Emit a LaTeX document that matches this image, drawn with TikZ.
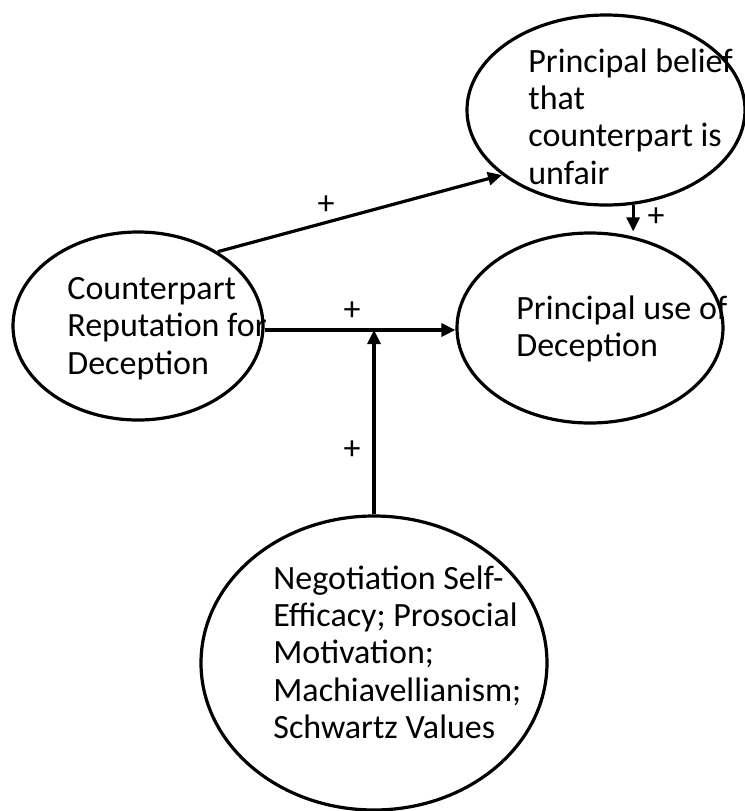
\documentclass[tikz,border=0pt]{standalone}
\usepackage{fontspec}
\setmainfont{Carlito}
\usetikzlibrary{shapes.geometric,arrows.meta}
\tikzset{
  oval/.style={draw,ellipse,line width=1.6pt,inner sep=0pt},
  txt/.style={anchor=north west,align=left,inner sep=0pt,font=\fontsize{17}{18.7}\selectfont},
  plus/.style={inner sep=0pt,font=\fontsize{17}{18.7}\selectfont},
  link/.style={line width=1.6pt,-{Triangle[length=7pt,width=6.5pt]}}
}
\begin{document}
\begin{tikzpicture}[x=0.5pt,y=-0.5pt]
  \useasboundingbox (0,0) rectangle (745,811);
  % the four constructs
  \node[oval,minimum width=139pt,minimum height=95pt] (belief) at (606,110) {};
  \node[oval,minimum width=125pt,minimum height=94pt] (cpr) at (138,326) {};
  \node[oval,minimum width=133pt,minimum height=95pt] (decUse) at (590,328) {};
  \node[oval,minimum width=173pt,minimum height=147pt] (traits) at (374,663) {};
  \node[txt] (beliefTxt) at (528,48) {Principal belief\\that\\counterpart is\\unfair};
  \node[txt] (cprTxt) at (67,277) {Counterpart\\Reputation for\\Deception};
  \node[txt] (useTxt) at (516,295) {Principal use of\\Deception};
  \node[txt] (traitsTxt) at (273,565) {Negotiation Self-\\Efficacy; Prosocial\\Motivation;\\Machiavellianism;\\Schwartz Values};
  % paths
  \coordinate (junction) at (374,330);
  \draw[link] (cpr.43) -- (belief.212);
  \draw[link] (cpr.east |- junction) -- (decUse.west |- junction);
  \draw[link] (traits) -- (junction);
  \draw[link] (belief.-74) -- (belief.-74 |- decUse.north);
  % signs
  \node[plus] (pTop) at (326,205) {+};
  \node[plus] (pMid) at (352,311) {+};
  \node[plus] (pLow) at (352,450) {+};
  \node[plus] (pShort) at (656,217) {+};
\end{tikzpicture}
\end{document}
